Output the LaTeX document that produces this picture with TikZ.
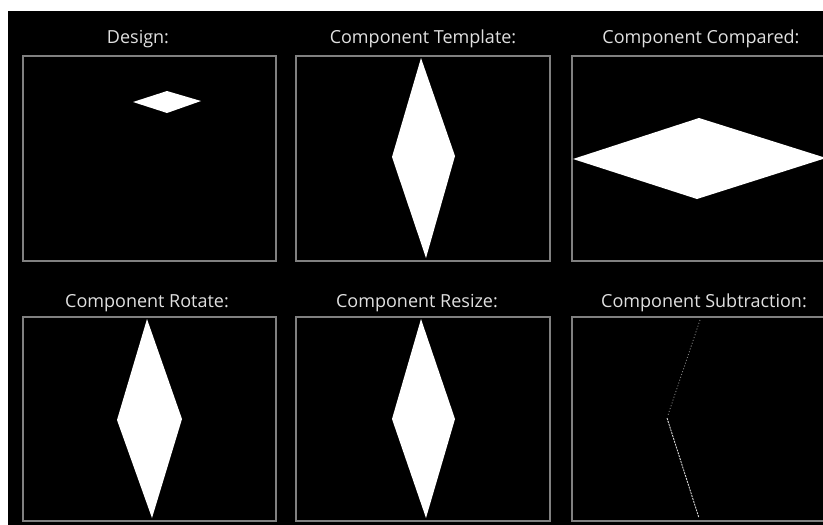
\documentclass[tikz,border=0pt]{standalone}
\usepackage{fontspec}
\setmainfont{Open Sans}
\begin{document}
\begin{tikzpicture}[x=1pt,y=-1pt,
  title/.style={text=black!12, font=\fontsize{18}{21}\selectfont, inner sep=0pt, anchor=base},
  panel/.style={draw=black!50, line width=1.3pt},
  diamondfill/.style={fill=white, draw=none}]
\useasboundingbox (0,0) rectangle (823,525);
\clip (0,0) rectangle (823,525);
\fill[white] (0,0) rectangle (823,525);
\fill[black] (8,11) rectangle (823,525);
% panels
\draw[panel] (23,56) rectangle (276,261);
\draw[panel] (296,56) rectangle (550,261);
\draw[panel] (572,56) rectangle (832,261);
\draw[panel] (23,317) rectangle (276,521);
\draw[panel] (296,317) rectangle (550,521);
\draw[panel] (572,317) rectangle (832,521);
% titles
\node[title] (t1) at (138,43) {Design:};
\node[title] (t2) at (423,43) {Component Template:};
\node[title] (t3) at (701,43) {Component Compared:};
\node[title] (t4) at (147,307) {Component Rotate:};
\node[title] (t5) at (417,307) {Component Resize:};
\node[title] (t6) at (704,307) {Component Subtraction:};
% shapes
\fill[diamondfill] (133,102) -- (167,91) -- (201,101) -- (167,113) -- cycle;
\fill[diamondfill] (421,58) -- (455,156) -- (426,258) -- (392,157) -- cycle;
\fill[diamondfill] (573,159) -- (699,118) -- (826,158) -- (697,199) -- cycle;
\fill[diamondfill] (147,319) -- (182,419) -- (152,518) -- (117,420) -- cycle;
\fill[diamondfill] (421,319) -- (455,419) -- (426,518) -- (392,419) -- cycle;
\draw[black!45, line width=0.8pt, dash pattern=on 1pt off 2pt] (700,320) -- (668,415);
\draw[black!15, line width=0.9pt, dash pattern=on 2pt off 1pt] (667,418) -- (699,518);
\end{tikzpicture}
\end{document}
